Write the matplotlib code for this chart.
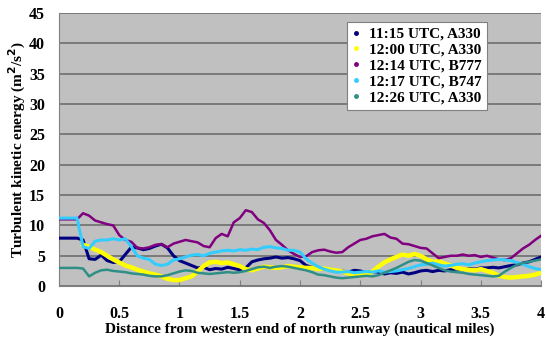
import numpy as np
import matplotlib.pyplot as plt

plt.rcParams['font.family'] = ['Liberation Serif', 'DejaVu Serif']
plt.rcParams['font.weight'] = 'bold'

dist = np.round(np.arange(0, 4.0001, 0.05), 2)

tke_1115 = [7.9, 7.9, 7.9, 7.9, 7.6, 4.5, 4.4, 5.1, 4.2, 3.9, 4.0, 5.2, 6.4, 6.3, 6.0, 6.2, 6.6,
            6.9, 6.3, 5.0, 4.2, 3.8, 3.4, 3.0, 3.1, 2.7, 2.9, 2.8, 3.1, 2.9, 2.7, 3.0, 4.0, 4.3,
            4.5, 4.6, 4.8, 4.6, 4.7, 4.5, 4.2, 3.4, 3.1, 3.0, 2.8, 2.7, 2.4, 2.5, 2.3, 2.6, 2.5,
            2.2, 2.4, 2.3, 2.0, 2.2, 2.1, 2.3, 2.0, 2.2, 2.5, 2.6, 2.4, 2.6, 2.5, 2.7, 2.8, 2.7,
            2.9, 2.8, 3.0, 3.0, 3.1, 3.0, 3.2, 3.4, 3.5, 3.8, 4.0, 4.4, 4.8]

tke_1200 = [np.nan, np.nan, np.nan, np.nan, 6.8, 6.5, 6.0, 5.6, 5.0, 4.4, 3.9, 3.4, 3.1, 2.7,
            2.4, 2.1, 1.9, 1.6, 1.2, 1.0, 1.0, 1.3, 1.6, 2.4, 3.3, 3.9, 4.0, 3.8, 3.9, 3.6, 3.3,
            2.8, 2.6, 2.9, 3.2, 3.1, 3.0, 3.1, 3.3, 3.2, 3.1, 3.0, 3.0, 2.8, 2.9, 2.7, 2.6, 2.4,
            2.1, 1.9, 1.8, 1.9, 2.4, 3.2, 3.9, 4.4, 4.8, 5.2, 5.0, 5.3, 5.0, 4.4, 4.0, 4.1, 3.7,
            3.4, 3.0, 2.8, 2.7, 2.6, 2.8, 2.5, 2.2, 1.7, 1.5, 1.4, 1.5, 1.6, 1.7, 1.9, 2.2]

tke_1214 = [11.0, 11.0, 11.0, 11.0, 12.0, 11.6, 10.8, 10.5, 10.2, 10.0, 8.4, 7.6, 7.3, 6.3,
            6.2, 6.4, 6.8, 6.9, 6.4, 7.0, 7.3, 7.6, 7.4, 7.2, 6.6, 6.4, 7.9, 8.6, 8.2, 10.5,
            11.2, 12.5, 12.2, 11.0, 10.4, 9.2, 7.6, 6.8, 5.9, 5.3, 4.8, 4.9, 5.6, 5.9, 6.0, 5.7,
            5.5, 5.6, 6.4, 7.0, 7.6, 7.8, 8.2, 8.4, 8.6, 8.0, 7.8, 7.0, 6.9, 6.6, 6.3, 6.2, 5.4,
            4.6, 4.8, 5.0, 5.0, 5.2, 5.0, 5.1, 4.8, 5.0, 4.7, 4.4, 4.3, 4.6, 5.4, 6.2, 6.8, 7.6,
            8.3]

tke_1217 = [11.2, 11.2, 11.2, 11.2, 6.5, 6.2, 7.4, 7.6, 7.6, 7.8, 7.6, 7.8, 6.5, 5.0, 4.6,
            4.4, 3.6, 3.4, 3.6, 4.3, 4.5, 4.8, 5.1, 5.2, 5.0, 5.4, 5.6, 5.8, 5.9, 5.8, 6.0, 5.9,
            6.1, 6.0, 6.4, 6.5, 6.3, 6.2, 5.9, 5.9, 5.6, 4.5, 3.8, 3.2, 2.8, 2.5, 2.3, 2.3, 2.4,
            2.2, 2.3, 2.4, 2.3, 2.5, 2.3, 2.4, 2.5, 2.7, 2.9, 3.2, 3.5, 3.6, 3.8, 3.5, 3.3, 3.4,
            3.6, 3.7, 3.5, 3.8, 4.0, 4.2, 4.3, 4.4, 4.3, 4.2, 3.9, 3.6, 3.2, 2.9, 2.7]

tke_1226 = [3.0, 3.0, 3.0, 3.0, 2.9, 1.6, 2.2, 2.6, 2.7, 2.5, 2.4, 2.3, 2.1, 2.0, 1.9, 1.7,
            1.6, 1.6, 1.8, 2.1, 2.4, 2.6, 2.5, 2.2, 2.1, 2.0, 2.1, 2.2, 2.3, 2.2, 2.3, 2.5, 2.8,
            3.1, 3.2, 3.0, 3.2, 3.3, 3.2, 3.0, 2.8, 2.6, 2.3, 1.9, 1.8, 1.6, 1.4, 1.3, 1.4, 1.5,
            1.6, 1.7, 1.6, 1.8, 2.2, 2.6, 3.0, 3.5, 4.0, 4.3, 4.2, 3.8, 3.4, 3.0, 2.6, 2.4, 2.3,
            2.2, 2.0, 1.9, 1.8, 1.7, 1.6, 1.7, 2.4, 3.0, 3.5, 3.8, 4.0, 4.2, 4.4]

labels = ['11:15 UTC, A330', '12:00 UTC, A330', '12:14 UTC, B777',
          '12:17 UTC, B747', '12:26 UTC, A330']
colors = ['#000080', '#ffff00', '#800080', '#33ccff', '#2f8f86']
widths = [2.2, 3.2, 1.8, 2.2, 1.8]

fig = plt.figure(figsize=(5.46, 3.39), dpi=100)
ax = fig.add_axes([0.108, 0.156, 0.883, 0.806])
ax.set_facecolor('#c0c0c0')

series = [tke_1115, tke_1200, tke_1214, tke_1217, tke_1226]
handles = []
for y, c, w, lab in zip(series, colors, widths, labels):
    ax.plot(dist, y, color=c, lw=w, zorder=3)
    h, = ax.plot([], [], ls='none', marker='o', ms=2.5, color=c, label=lab)
    handles.append(h)

ax.set_xlim(0, 4)
ax.set_ylim(0, 45)
ax.set_xticks(np.arange(0, 4.01, 0.5))
ax.set_xticklabels(['0', '0.5', '1', '1.5', '2', '2.5', '3', '3.5', '4'])
ax.set_yticks(np.arange(0, 46, 5))
ax.yaxis.grid(True, color='#6e6e6e', lw=1.2)
ax.set_axisbelow(True)
ax.tick_params(axis='x', direction='in', length=4, color='#808080', pad=14, labelsize=11.5)
ax.tick_params(axis='y', length=0, pad=10, labelsize=11.5)
for s in ['top', 'right']:
    ax.spines[s].set_visible(False)
for s in ['left', 'bottom']:
    ax.spines[s].set_color('#808080')

ax.set_xlabel('Distance from western end of north runway (nautical miles)',
              fontsize=11, fontweight='bold', labelpad=1)
ax.set_ylabel('Turbulent kinetic energy (m$^2$/s$^2$)', fontsize=11,
              fontweight='bold', labelpad=1)

leg = ax.legend(handles=handles, loc='upper right', bbox_to_anchor=(0.888, 0.967),
                borderaxespad=0, frameon=True, fancybox=False, handlelength=0.5,
                handletextpad=0.6, borderpad=0.35, labelspacing=0.14,
                prop={'weight': 'bold', 'size': 11})
leg.get_frame().set_edgecolor('#808080')
leg.get_frame().set_linewidth(0.8)
leg.get_frame().set_alpha(1)

fig.savefig('out.png', dpi=100)
